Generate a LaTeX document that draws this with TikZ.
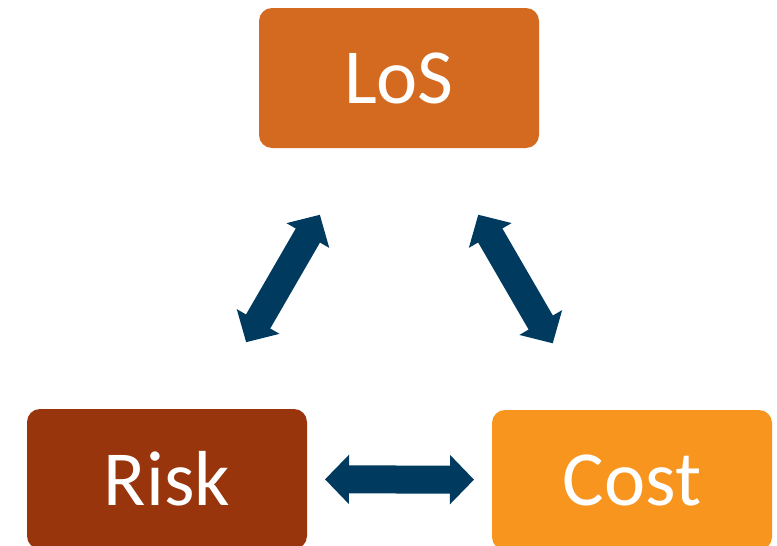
\documentclass[tikz,border=0pt]{standalone}
\usepackage{fontspec}
\setmainfont{Carlito}
\usepackage{tikz}
\usetikzlibrary{arrows.meta}
\definecolor{losorange}{HTML}{D36A20}
\definecolor{riskbrown}{HTML}{98350C}
\definecolor{costorange}{HTML}{F7951F}
\definecolor{linkblue}{HTML}{003A5E}
\newcommand{\linktip}{Triangle[length=24pt,width=48pt]}

\begin{document}
\begin{tikzpicture}[x=1pt,y=-1pt,
    box/.style={rectangle,rounded corners=13pt,minimum width=280pt,minimum height=140pt,
        text=white,font=\fontsize{78}{90}\selectfont},
    link/.style={{\linktip}-{\linktip},line width=28pt,draw=linkblue,
        shorten <=158pt,shorten >=158pt}]
            \useasboundingbox (0,0) rectangle (777,546);
            \node[box,fill=losorange] (los) at (399,78) {LoS};
            \node[box,fill=riskbrown] (risk) at (167,479) {Risk};
            \node[box,fill=costorange] (cost) at (632,480) {Cost};
            \draw[link] (risk.center) -- (los.center);
            \draw[link] (cost.center) -- (los.center);
            \draw[link] (risk.center) -- (cost.center);
        \end{tikzpicture}
\end{document}
